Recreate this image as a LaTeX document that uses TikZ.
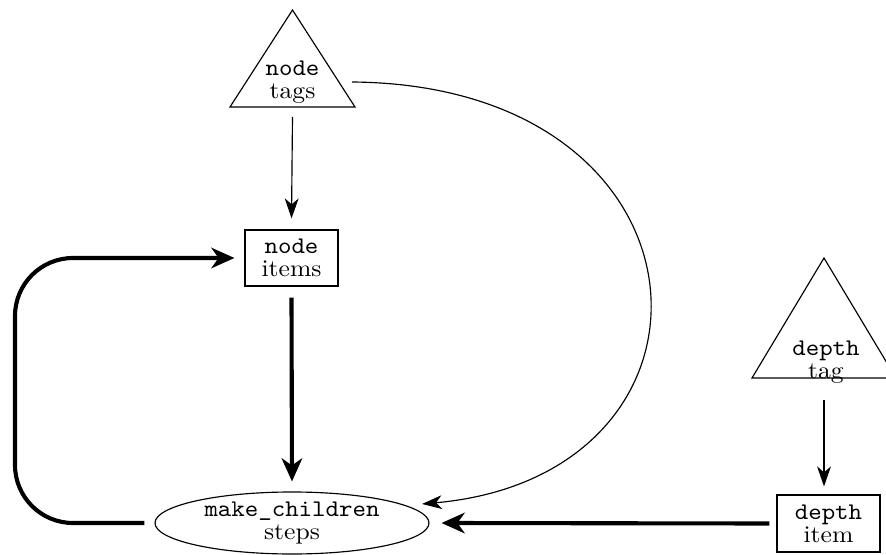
\documentclass[tikz,border=0pt]{standalone}
\usepackage{graphicx}
\usetikzlibrary{arrows.meta,calc,shapes.geometric}
\newcommand\mytightfont{\fontsize{10pt}{8.97pt}\selectfont\lineskiplimit=-20pt\relax\lineskip=0pt\relax}
\newcommand\sq[1]{\scalebox{1}[0.93]{#1}}
\begin{document}
\begin{tikzpicture}[x=0.39pt,y=-0.39pt,
  txt/.style={inner sep=0pt,align=center,font=\mytightfont},
  boxnode/.style={draw,line width=0.45pt,inner sep=0pt,align=center,font=\mytightfont},
  ellnode/.style={draw,ellipse,line width=0.45pt,inner sep=0pt,align=center,minimum width=274*0.39pt,minimum height=62*0.39pt,font=\mytightfont},
  tri/.style={line width=0.45pt,line join=miter},
  thinarrow/.style={line width=0.45pt,-{Stealth[length=7.8pt,width=5.4pt,inset=2.3pt]}},
  thickarrow/.style={line width=1.6pt,-{Stealth[length=9pt,width=8pt,inset=2.8pt]}}
]
\useasboundingbox (0,0) rectangle (886,555);

% nodes
\node[txt] (tags) at (292.5,82) {\sq{\texttt{node}}\\\sq{tags}};
\draw[tri] ($(tags)+(0,-72)$) -- ($(tags)+(62.5,25)$) -- ($(tags)+(-62.5,25)$) -- cycle;

\node[boxnode,minimum width=93*0.39pt,minimum height=56*0.39pt] (items) at (291.5,258) {\sq{\texttt{node}}\\\sq{items}};

\node[ellnode] (steps) at (292,523) {\sq{\texttt{make\_children}}\\\sq{steps}};

\node[txt] (depthtag) at (826,362) {\sq{\texttt{depth}}\\\sq{tag}};
\draw[tri] ($(depthtag)+(-2,-104)$) -- ($(depthtag)+(70,16)$) -- ($(depthtag)+(-74,16)$) -- cycle;

\node[boxnode,minimum width=103*0.39pt,minimum height=57*0.39pt] (depthitem) at (828.5,523.5) {\sq{\texttt{depth}}\\\sq{item}};

\coordinate (loopx) at (15,0);

% connectors
\draw[thinarrow] ($(tags)+(0,35)$) -- ($(items.north)+(0,-11)$);
\draw[thinarrow] ($(tags)+(59.5,0)$) .. controls (725,85) and (745,475) .. ($(steps)+(130,-19)$);
\draw[thickarrow] ($(items.south)+(0,11)$) -- ($(steps.north)+(0,-10)$);
\draw[thinarrow] ($(depthtag)+(-2,38)$) -- ($(depthitem.north)+(-4.5,-8)$);
\draw[thickarrow] ($(depthitem.west)+(-7,0)$) -- ($(steps.east)+(12,0)$);
\draw[thickarrow,rounded corners=58*0.39pt] ($(steps.west)+(-10,0)$) -- (loopx |- steps.west) -- (loopx |- items.west) -- ($(items.west)+(-10,0)$);
\end{tikzpicture}
\end{document}
